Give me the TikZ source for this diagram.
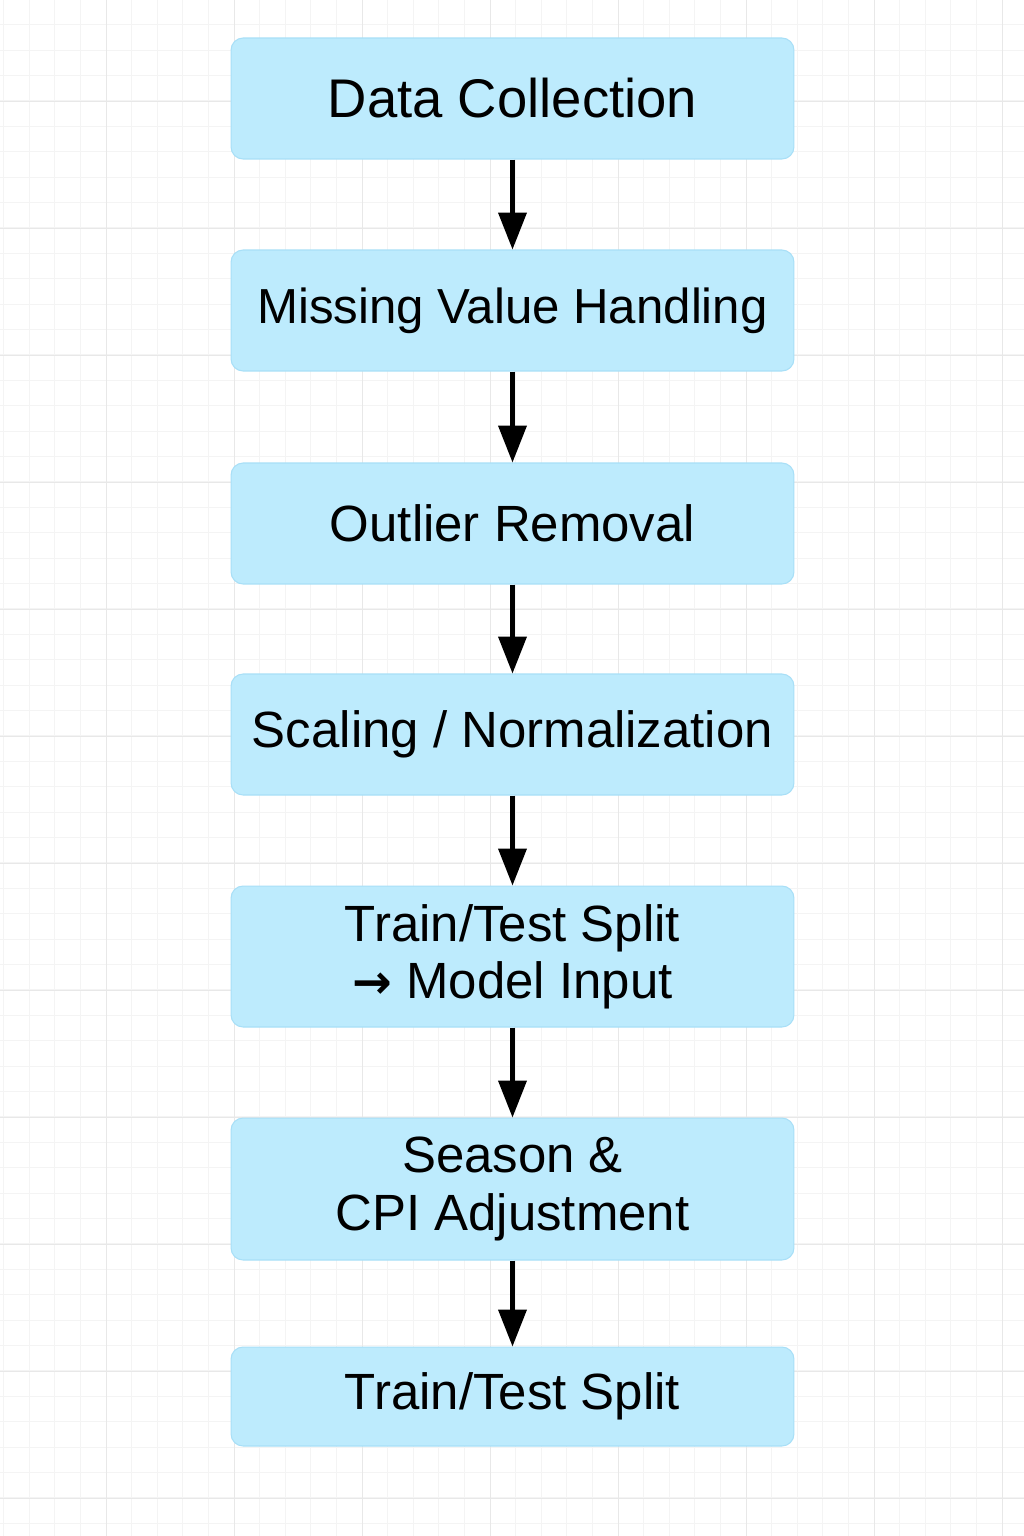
\documentclass[tikz,border=0pt]{standalone}
\usepackage{fontspec}
\setmainfont{Liberation Sans}
\newfontfamily\arrowfont{DejaVu Sans}
\usetikzlibrary{arrows.meta}

\definecolor{boxfill}{HTML}{BDEBFD}
\definecolor{boxline}{HTML}{A8DFF7}
\definecolor{gridminor}{HTML}{F4F4F4}
\definecolor{gridmajor}{HTML}{E8E8E8}

\tikzset{
  stage/.style={draw=boxline, line width=0.6pt, fill=boxfill, rounded corners=0.24cm,
    minimum width=11.26cm, align=center, inner sep=0pt,
    font=\fontsize{29}{32.5}\selectfont},
  flow/.style={-{Triangle[length=0.74cm,width=0.56cm]}, line width=2.3pt}
}

\begin{document}
\begin{tikzpicture}[x=0.02cm, y=-0.02cm]
    \useasboundingbox (0,0) rectangle (1024,1536);
    \fill[white] (0,0) rectangle (1024,1536);

    % background grid
    \foreach \gx in {3.6,29.2,...,1024} \draw[gridminor, line width=0.5pt] (\gx,0) -- (\gx,1536);
    \foreach \gy in {24.6,50,...,1536} \draw[gridminor, line width=0.5pt] (0,\gy) -- (1024,\gy);
    \foreach \gx in {106,234,...,1024} \draw[gridmajor, line width=0.5pt] (\gx,0) -- (\gx,1536);
    \foreach \gy in {101,228,...,1536} \draw[gridmajor, line width=0.5pt] (0,\gy) -- (1024,\gy);

    % stages
    \node[stage, minimum height=2.42cm, font=\fontsize{31}{34}\selectfont] (collect) at (512.5,98.5) {Data Collection};
    \node[stage, minimum height=2.42cm, font=\fontsize{28}{32}\selectfont] (missing) at (512.5,310.5) {Missing Value Handling};
    \node[stage, minimum height=2.42cm] (outlier) at (512.5,523.5) {Outlier Removal};
    \node[stage, minimum height=2.42cm] (scaling) at (512.5,734.5) {Scaling / Normalization};
    \node[stage, minimum height=2.82cm] (split) at (512.5,956.5) {Train/Test Split\\ {\arrowfont\bfseries\fontsize{27}{30}\selectfont →} Model Input};
    \node[stage, minimum height=2.84cm] (season) at (512.5,1189) {Season \&\\ CPI Adjustment};
    \node[stage, minimum height=1.98cm] (final) at (512.5,1396.5) {Train/Test Split};

    % connectors
    \draw[flow] (collect) -- (missing);
    \draw[flow] (missing) -- (outlier);
    \draw[flow] (outlier) -- (scaling);
    \draw[flow] (scaling) -- (split);
    \draw[flow] (split) -- (season);
    \draw[flow] (season) -- (final);
\end{tikzpicture}
\end{document}
